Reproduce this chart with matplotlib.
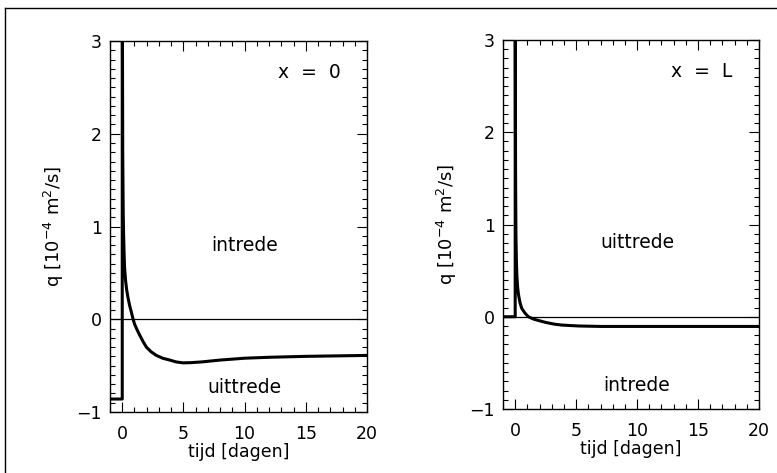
import matplotlib
matplotlib.use("Agg")
import matplotlib.pyplot as plt
from matplotlib.lines import Line2D
from matplotlib.ticker import MultipleLocator

plt.rcParams['font.family'] = ['DejaVu Sans']
plt.rcParams['mathtext.default'] = 'regular'

# data: x = 0 (left panel)
t_left = [-1, 0, 0, 0.04, 0.08, 0.11, 0.15, 0.19, 0.27, 0.36, 0.46, 0.6, 0.74, 0.87,
          1.0, 1.2, 1.42, 1.7, 1.97, 2.35, 2.79, 3.3, 3.88, 4.4, 4.97, 5.6, 6.5,
          8.0, 10, 12, 15, 20]
q_left = [-0.86, -0.86, 4.0, 1.8, 1.15, 0.92, 0.72, 0.56, 0.42, 0.32, 0.24, 0.15,
          0.08, 0.01, -0.05, -0.11, -0.17, -0.24, -0.30, -0.35, -0.39, -0.42, -0.44,
          -0.46, -0.47, -0.468, -0.46, -0.44, -0.42, -0.41, -0.40, -0.39]
# data: x = L (right panel)
t_right = [-1, 0, 0, 0.03, 0.06, 0.1, 0.14, 0.2, 0.27, 0.4, 0.54, 0.8, 1.08, 1.5,
           1.9, 2.45, 3.2, 3.8, 5.2, 7, 10, 15, 20]
q_right = [0, 0, 4.0, 1.6, 0.9, 0.6, 0.44, 0.32, 0.24, 0.15, 0.09, 0.04, 0.0, -0.025,
           -0.04, -0.06, -0.08, -0.09, -0.1, -0.105, -0.105, -0.105, -0.105]

panel_titles = ["x  =  0", "x  =  L"]
upper_labels = ["intrede", "uittrede"]
lower_labels = ["uittrede", "intrede"]
xlabel = "tijd [dagen]"
ylabel = "q [10$^{-4}$ m$^2$/s]"

W, H = 777, 473
fig = plt.figure(figsize=(W / 100, H / 100), dpi=100)

rects = [
    [110 / W, 1 - 412 / H, 257 / W, 371 / H],
    [503 / W, 1 - 409 / H, 256 / W, 369 / H],
]
series = [(t_left, q_left), (t_right, q_right)]

fs = 12.5
for i in range(2):
    ax = fig.add_axes(rects[i])
    t, q = series[i]
    ax.axhline(0, color='black', lw=0.9, zorder=1)
    ax.plot(t, q, color='black', lw=2.2, solid_joinstyle='round', zorder=2)
    ax.set_xlim(-1, 20)
    ax.set_ylim(-1, 3)
    ax.xaxis.set_major_locator(MultipleLocator(5))
    ax.xaxis.set_minor_locator(MultipleLocator(1))
    ax.yaxis.set_major_locator(MultipleLocator(1))
    ax.yaxis.set_minor_locator(MultipleLocator(0.1))
    ax.tick_params(which='both', direction='in', top=True, right=True,
                   labelsize=fs, width=0.8, colors='black')
    ax.tick_params(which='major', length=7)
    ax.tick_params(axis='x', which='major', pad=9)
    ax.tick_params(axis='y', which='major', pad=6)
    ax.tick_params(which='minor', length=3.5)
    for s in ax.spines.values():
        s.set_linewidth(1.0)
    ax.set_xlabel(xlabel, fontsize=fs, labelpad=0)
    ax.set_ylabel(ylabel, fontsize=fs + 0.5, labelpad=7)
    ax.text(15.3, 2.66, panel_titles[i], fontsize=fs + 1, ha='center', va='center')
    ax.text(10, 0.8, upper_labels[i], fontsize=fs + 1, ha='center', va='center')
    ax.text(10, -0.74, lower_labels[i], fontsize=fs + 1, ha='center', va='center')

# outer frame fragments (left and top)
fig.add_artist(Line2D([5 / W, 5 / W], [0, 1 - 8 / H], transform=fig.transFigure,
                      color='black', lw=1.0))
fig.add_artist(Line2D([5 / W, 1], [1 - 8 / H, 1 - 8 / H], transform=fig.transFigure,
                      color='black', lw=1.0))

fig.savefig("out.png", dpi=100)
